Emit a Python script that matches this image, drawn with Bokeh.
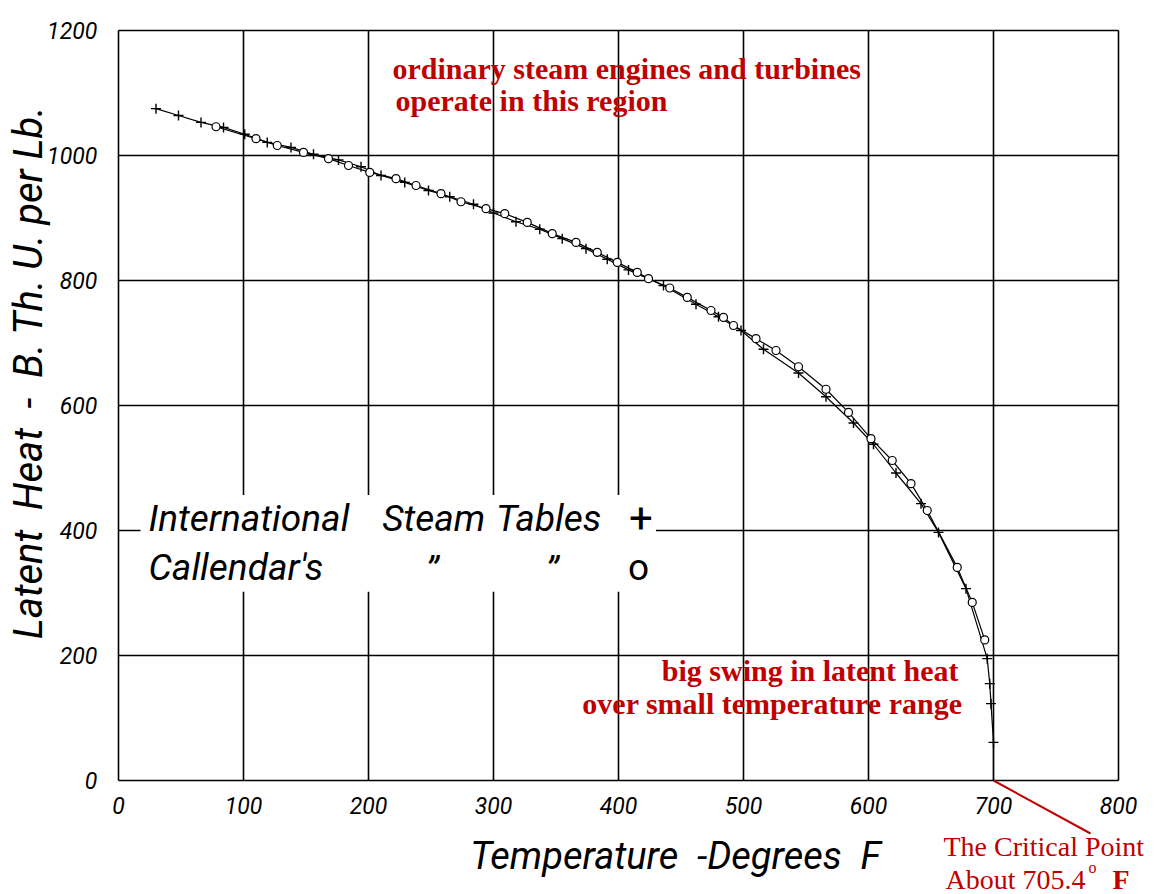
import math
from bokeh.plotting import figure
from bokeh.models import Range1d, Label, BoxAnnotation, Arrow, ColumnDataSource
from bokeh.core.properties import value
from bokeh.embed import file_html
from bokeh.resources import INLINE

# ---------------- data ----------------
x_ticks = [0, 100, 200, 300, 400, 500, 600, 700, 800]
x_tick_labels = ["0", "100", "200", "300", "400", "500", "600", "700", "800"]
y_ticks = [0, 200, 400, 600, 800, 1000, 1200]
y_tick_labels = ["0", "200", "400", "600", "800", "1000", "1200"]

# International Steam Tables  (+)
ist_temp = [30, 48, 66, 84, 101, 119, 138, 156, 176, 194, 210, 229, 248, 265, 284, 300,
            318, 337, 355, 374, 391, 408, 436, 462, 480, 498, 516, 544, 566, 588, 604,
            622, 642, 656, 678, 695, 697, 698, 700]
ist_heat = [1075, 1064, 1053, 1045, 1034, 1021, 1013, 1002, 993, 982, 968, 957, 944, 934,
            922, 908, 894, 882, 867, 851, 834, 817, 792, 762, 742, 720, 690, 652, 614,
            572, 538, 492, 443, 397, 307, 195, 155, 123, 61]

# Callendar's steam tables  (o)
cal_temp = [78, 110, 127, 148, 168, 184, 201, 222, 238, 258, 274, 294, 309, 327, 347, 366,
            383, 399, 415, 424, 441, 455, 474, 484, 492, 510, 526, 544, 566, 584, 602, 619,
            634, 647, 671, 683, 693]
cal_heat = [1046, 1027, 1016, 1005, 995, 984, 973, 963, 952, 939, 926, 915, 907, 893, 875,
            861, 845, 829, 813, 803, 788, 773, 752, 741, 728, 707, 688, 662, 626, 589, 547,
            512, 475, 432, 341, 285, 225]

# critical point as drawn on the chart
crit_temp = 700
crit_heat = 0

X_MIN, X_MAX = 0, 800
Y_MIN, Y_MAX = 0, 1200

HAND = "Roboto"
SERIF = "Liberation Serif"
RED = "#c00000"
SP = "\u00a0"

# The frame covers the whole canvas so that texts in the margins are not clipped.
p = figure(width=1165, height=894, min_border=0,
           x_range=Range1d(-94.4, 837.6), y_range=Range1d(-182.4, 1248),
           x_axis_type=None, y_axis_type=None,
           output_backend="svg", toolbar_location=None)
p.background_fill_color = "white"
p.border_fill_color = "white"
p.outline_line_color = None
p.grid.visible = False

# grid / frame lines
p.segment(x0=x_ticks, y0=Y_MIN, x1=x_ticks, y1=Y_MAX, line_color="black", line_width=1.6)
p.segment(x0=X_MIN, y0=y_ticks, x1=X_MAX, y1=y_ticks, line_color="black", line_width=1.6)

# tick labels
p.text(x=x_ticks, y=-40, text=x_tick_labels, text_font=value(HAND),
       text_font_style="italic", text_font_size="23px", text_color="black",
       text_align="center", text_baseline="middle")
p.text(x=-17, y=y_ticks, text=y_tick_labels, text_font=value(HAND),
       text_font_style="italic", text_font_size="23px", text_color="black",
       text_align="right", text_baseline="middle")

# curves
ist_line_src = ColumnDataSource(dict(x=ist_temp + [crit_temp], y=ist_heat + [crit_heat]))
p.line("x", "y", source=ist_line_src, line_color="black", line_width=1.2)
p.line(cal_temp, cal_heat, line_color="black", line_width=1.2)
p.scatter(ist_temp, ist_heat, marker="cross", size=10, line_color="black", line_width=1.4)
p.scatter(cal_temp, cal_heat, marker="circle", size=8, line_color="black",
          fill_color="white", line_width=1.2)

# legend block (hand lettering) with white background
p.add_layout(BoxAnnotation(left=17.6, right=430, top=457, bottom=302,
                           fill_color="white", fill_alpha=1.0, line_alpha=0))

def hand(text, x, y, size="37px", align="left", angle=0.0, style="italic"):
    p.add_layout(Label(x=x, y=y, text=text, text_font=HAND, text_font_style=style,
                       text_font_size=size, text_color="black", text_align=align,
                       text_baseline="middle", angle=angle))

hand("International", 24, 420)
hand("Steam", 211, 420)
hand("Tables", 302, 420)
hand("+", 418, 420, align="center", size="42px", style="normal")
hand("Callendar's", 24, 341)
hand("\u201d", 251, 336, align="center")
hand("\u201d", 347, 336, align="center")
hand("o", 416, 341, align="center", style="normal")

# axis titles
hand("Temperature" + SP * 2 + "-" + "Degrees" + SP * 2 + "F", 445.6, -120,
     size="38px", align="center")
hand("Latent" + SP * 2 + "Heat" + SP * 2 + "-" + SP * 2 + "B. Th. U. per Lb.",
     -72, 652.8, size="40px", align="center", angle=math.pi / 2)

# red notes
def note(text, x, y, align="left", style="bold", size="30px"):
    p.add_layout(Label(x=x, y=y, text=text, text_font=SERIF, text_font_style=style,
                       text_font_size=size, text_color=RED, text_align=align,
                       text_baseline="middle"))

note("ordinary steam engines and turbines", 219.2, 1139)
note("operate in this region", 221.6, 1088)
note("big swing in latent heat", 672, 176, align="right")
note("over small temperature range", 675.2, 123.2, align="right")
note("The Critical Point", 660, -105.6, style="normal", size="28px")
note("About 705.4", 661.6, -158.4, style="normal", size="28px")
note("o", 776, -139, style="normal", size="16px")
note("F", 795.2, -158.4, style="bold", size="28px")

p.add_layout(Arrow(end=None, x_start=crit_temp, y_start=crit_heat, x_end=777.6, y_end=-84.8,
                   line_color=RED, line_width=2))

open("out.html", "w").write(file_html(p, INLINE))
